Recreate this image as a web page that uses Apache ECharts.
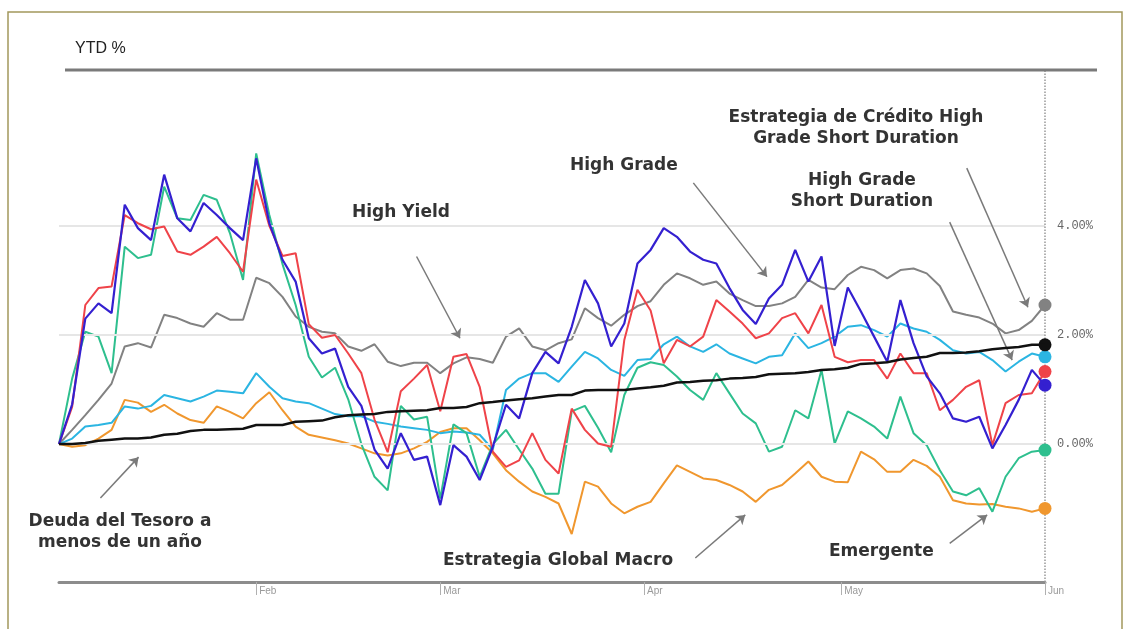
<!DOCTYPE html>
<html>
<head>
<meta charset="utf-8">
<script src="https://cdn.jsdelivr.net/npm/echarts@6/dist/echarts.min.js"></script>
<style>
  html, body { margin: 0; padding: 0; background: #fff; }
  #chart { width: 1133px; height: 629px; }
</style>
</head>
<body>
<div id="chart"></div>
<script>
// day of year (Jan 1 = 0), sampled every two days
var days = [1, 3, 5, 7, 9, 11, 13, 15, 17, 19, 21, 23, 25, 27, 29, 31,
  33, 35, 37, 39, 41, 43, 45, 47, 49, 51, 53, 55, 57, 59,
  61, 63, 65, 67, 69, 71, 73, 75, 77, 79, 81, 83, 85, 87, 89, 91,
  93, 95, 97, 99, 101, 103, 105, 107, 109, 111, 113, 115, 117, 119, 121,
  123, 125, 127, 129, 131, 133, 135, 137, 139, 141, 143, 145, 147, 149, 151];

var monthTicks = [31, 59, 90, 120, 151];
var monthLabels = ['Feb', 'Mar', 'Apr', 'May', 'Jun'];
var yTicks = [0, 2, 4];

// YTD % por estrategia
var highGrade = [0.0, 0.73, 2.3, 2.58, 2.4, 4.39, 3.96, 3.74, 4.94, 4.14, 3.9, 4.42, 4.2, 3.96, 3.74, 5.24,
  4.05, 3.38, 2.98, 1.94, 1.66, 1.75, 1.05, 0.7, -0.1, -0.45, 0.2, -0.29, -0.23, -1.12,
  -0.02, -0.23, -0.66, -0.05, 0.72, 0.47, 1.3, 1.69, 1.48, 2.15, 3.01, 2.58, 1.79, 2.21, 3.31, 3.56,
  3.96, 3.8, 3.53, 3.38, 3.31, 2.86, 2.46, 2.2, 2.67, 2.92, 3.56, 2.98, 3.44, 1.8, 2.87,
  2.43, 1.97, 1.51, 2.64, 1.85, 1.24, 0.93, 0.47, 0.41, 0.5, -0.08, 0.35, 0.81, 1.36, 1.08];

var highYield = [0, 0.68, 2.55, 2.86, 2.89, 4.2, 4.05, 3.94, 3.99, 3.53, 3.47, 3.62, 3.8, 3.5, 3.16, 4.85,
  4.0, 3.45, 3.5, 2.2, 1.95, 2.0, 1.66, 1.3, 0.45, -0.15, 0.97, 1.2, 1.45, 0.6,
  1.6, 1.65, 1.05, -0.14, -0.42, -0.3, 0.2, -0.29, -0.54, 0.65, 0.26, 0.01, -0.05, 1.91, 2.83, 2.45,
  1.48, 1.91, 1.79, 1.97, 2.64, 2.43, 2.21, 1.94, 2.03, 2.31, 2.4, 2.03, 2.55, 1.6, 1.5,
  1.54, 1.54, 1.2, 1.66, 1.3, 1.3, 0.62, 0.81, 1.05, 1.17, -0.02, 0.75, 0.9, 0.93, 1.33];

var emergente = [0, 1.2, 2.06, 1.97, 1.3, 3.62, 3.41, 3.47, 4.72, 4.14, 4.11, 4.57, 4.48, 3.87, 3.01, 5.33,
  4.2, 3.3, 2.55, 1.6, 1.22, 1.4, 0.82, 0.0, -0.6, -0.85, 0.7, 0.45, 0.5, -1.0,
  0.36, 0.2, -0.6, 0.0, 0.26, -0.1, -0.45, -0.91, -0.91, 0.6, 0.7, 0.3, -0.15, 0.9, 1.4, 1.5,
  1.45, 1.24, 0.99, 0.81, 1.3, 0.93, 0.56, 0.38, -0.14, -0.05, 0.62, 0.47, 1.36, 0.01, 0.6,
  0.47, 0.32, 0.1, 0.87, 0.2, -0.02, -0.48, -0.87, -0.94, -0.81, -1.24, -0.6, -0.26, -0.14, -0.11];

var creditoHGSD = [0, 0.26, 0.53, 0.81, 1.11, 1.79, 1.85, 1.77, 2.37, 2.31, 2.21, 2.15, 2.4, 2.28, 2.28, 3.05,
  2.95, 2.7, 2.34, 2.15, 2.06, 2.03, 1.79, 1.71, 1.83, 1.51, 1.43, 1.49, 1.49, 1.3,
  1.48, 1.59, 1.56, 1.49, 1.97, 2.12, 1.79, 1.72, 1.85, 1.92, 2.49, 2.31, 2.17, 2.37, 2.53, 2.62,
  2.92, 3.13, 3.04, 2.92, 2.98, 2.76, 2.64, 2.53, 2.53, 2.58, 2.7, 3.01, 2.87, 2.84, 3.1,
  3.25, 3.19, 3.04, 3.19, 3.22, 3.13, 2.9, 2.43, 2.37, 2.32, 2.21, 2.03, 2.09, 2.26, 2.55];

var hgShortDuration = [0, 0.1, 0.32, 0.35, 0.39, 0.69, 0.65, 0.7, 0.9, 0.84, 0.78, 0.87, 0.98, 0.96, 0.93, 1.3,
  1.05, 0.84, 0.78, 0.75, 0.65, 0.55, 0.51, 0.51, 0.41, 0.37, 0.32, 0.29, 0.26, 0.2,
  0.23, 0.21, 0.17, -0.1, 0.99, 1.2, 1.3, 1.3, 1.14, 1.42, 1.69, 1.57, 1.36, 1.25, 1.54, 1.56,
  1.83, 1.97, 1.79, 1.69, 1.83, 1.66, 1.57, 1.48, 1.6, 1.63, 2.03, 1.76, 1.85, 1.97, 2.15,
  2.18, 2.09, 1.97, 2.21, 2.12, 2.06, 1.91, 1.72, 1.66, 1.69, 1.54, 1.33, 1.51, 1.66, 1.6];

var globalMacro = [0, -0.05, -0.02, 0.1, 0.26, 0.81, 0.76, 0.59, 0.72, 0.56, 0.44, 0.39, 0.69, 0.59, 0.47, 0.75,
  0.95, 0.62, 0.32, 0.17, 0.12, 0.07, 0.01, -0.08, -0.17, -0.21, -0.17, -0.08, 0.04, 0.22,
  0.29, 0.29, 0.07, -0.17, -0.48, -0.69, -0.87, -0.97, -1.09, -1.65, -0.69, -0.78, -1.09, -1.27, -1.15, -1.06,
  -0.72, -0.39, -0.51, -0.63, -0.66, -0.75, -0.87, -1.06, -0.84, -0.75, -0.54, -0.32, -0.6, -0.69, -0.7,
  -0.14, -0.28, -0.51, -0.51, -0.29, -0.4, -0.6, -1.03, -1.09, -1.11, -1.1, -1.15, -1.18, -1.24, -1.18];

var tesoro = [0, 0, 0.02, 0.06, 0.08, 0.1, 0.1, 0.12, 0.17, 0.19, 0.24, 0.26, 0.26, 0.27, 0.28, 0.35,
  0.35, 0.35, 0.41, 0.42, 0.43, 0.49, 0.53, 0.54, 0.55, 0.59, 0.6, 0.61, 0.62, 0.66,
  0.66, 0.68, 0.75, 0.77, 0.8, 0.82, 0.84, 0.87, 0.9, 0.9, 0.98, 0.99, 0.99, 0.99, 1.02, 1.04,
  1.07, 1.13, 1.14, 1.16, 1.17, 1.2, 1.21, 1.23, 1.28, 1.29, 1.3, 1.32, 1.36, 1.37, 1.4,
  1.47, 1.48, 1.5, 1.55, 1.58, 1.6, 1.67, 1.67, 1.68, 1.7, 1.74, 1.76, 1.78, 1.82, 1.82];

// annotation arrows, in chart units [day, %]
var arrows = [
  [[55.4, 3.44], [62.0, 1.94]],
  [[97.5, 4.79], [108.7, 3.07]],
  [[139.1, 5.06], [148.4, 2.51]],
  [[136.5, 4.07], [146.0, 1.54]],
  [[7.3, -0.99], [13.1, -0.24]],
  [[97.8, -2.09], [105.4, -1.3]],
  [[136.5, -1.82], [142.2, -1.3]]
];

var notes = [
  { text: 'High Yield', x: 352, y: 213, align: 'left' },
  { text: 'High Grade', x: 570, y: 166, align: 'left' },
  { text: 'Estrategia de Crédito High\nGrade Short Duration', x: 856, y: 128, align: 'center' },
  { text: 'High Grade\nShort Duration', x: 862, y: 191, align: 'center' },
  { text: 'Deuda del Tesoro a\nmenos de un año', x: 120, y: 532, align: 'center' },
  { text: 'Estrategia Global Macro', x: 443, y: 561, align: 'left' },
  { text: 'Emergente', x: 829, y: 552, align: 'left' }
];

function makeLine(name, values, color, width, z) {
  var last = values.length - 1;
  return {
    name: name,
    type: 'line',
    z: z,
    symbol: 'none',
    data: days.map(function (d, i) { return [d, values[i]]; }),
    lineStyle: { color: color, width: width },
    itemStyle: { color: color },
    markPoint: {
      symbol: 'circle',
      symbolSize: 13,
      itemStyle: { color: color },
      label: { show: false },
      data: [{ coord: [days[last], values[last]] }]
    }
  };
}

var chart = echarts.init(document.getElementById('chart'));

chart.setOption({
  animation: false,
  backgroundColor: '#fff',
  title: {
    text: 'YTD %',
    left: 70,
    top: 36,
    textStyle: { fontSize: 16, fontWeight: 'normal', color: '#222', fontFamily: 'Liberation Sans' }
  },
  grid: { left: 59, right: 88, top: 70, bottom: 47 },
  xAxis: {
    type: 'value',
    min: 1,
    max: 151,
    splitLine: { show: false },
    axisLine: { onZero: false, lineStyle: { color: '#8c8c8c', width: 3 } },
    axisTick: { customValues: monthTicks, length: 13, lineStyle: { color: '#b0b0b0', width: 1 } },
    axisLabel: {
      customValues: monthTicks,
      formatter: function (v) { return monthLabels[monthTicks.indexOf(v)]; },
      align: 'left',
      padding: [0, 0, 0, 3],
      margin: 4,
      fontSize: 10,
      color: '#9a9a9a',
      fontFamily: 'Liberation Sans Narrow, Liberation Sans'
    }
  },
  yAxis: {
    type: 'value',
    position: 'right',
    min: -2.53,
    max: 6.86,
    splitLine: { show: false },
    axisLine: { show: false },
    axisTick: { show: false },
    axisLabel: {
      customValues: yTicks,
      formatter: function (v) { return v.toFixed(2) + '%'; },
      margin: 12,
      fontSize: 12,
      color: '#666',
      fontFamily: 'Liberation Mono'
    }
  },
  graphic: [
    {
      type: 'rect', z: -1, silent: true,
      shape: { x: 8, y: 12, width: 1114, height: 640 },
      style: { fill: 'none', stroke: '#a2985c', lineWidth: 1.5 }
    },
    {
      type: 'line', z: 10, silent: true,
      shape: { x1: 65, y1: 70, x2: 1097, y2: 70 },
      style: { stroke: '#7a7a7a', lineWidth: 3 }
    }
  ].concat(notes.map(function (n) {
    return {
      type: 'text', x: n.x, y: n.y, z: 20, silent: true,
      style: {
        text: n.text, align: n.align, verticalAlign: 'middle',
        fontSize: 17, fontWeight: 'bold', fontFamily: 'DejaVu Sans',
        fill: '#333', lineHeight: 21
      }
    };
  })),
  series: [
    {
      type: 'line',
      z: 1,
      silent: true,
      data: [],
      markLine: {
        silent: true,
        symbol: 'none',
        label: { show: false },
        lineStyle: { color: '#e6e6e6', width: 2, type: 'solid' },
        data: yTicks.map(function (t) { return { yAxis: t }; }).concat([
          { xAxis: monthTicks[monthTicks.length - 1], lineStyle: { color: '#999', width: 1.5, type: 'dotted' } }
        ])
      }
    },
    {
      type: 'line',
      z: 9,
      silent: true,
      data: [],
      markLine: {
        silent: true,
        symbol: ['none', 'arrow'],
        symbolSize: 9,
        label: { show: false },
        lineStyle: { color: '#7a7a7a', width: 1.5, type: 'solid' },
        data: arrows.map(function (a) { return [{ coord: a[0] }, { coord: a[1] }]; })
      }
    },
    makeLine('Estrategia de Crédito High Grade Short Duration', creditoHGSD, '#828282', 2, 3),
    makeLine('Estrategia Global Macro', globalMacro, '#f0972e', 2, 3),
    makeLine('High Grade Short Duration', hgShortDuration, '#2bb5e2', 2, 4),
    makeLine('Emergente', emergente, '#2ebf8e', 2, 4),
    makeLine('High Yield', highYield, '#ef4349', 2, 5),
    makeLine('High Grade', highGrade, '#3420d0', 2.2, 6),
    makeLine('Deuda del Tesoro a menos de un año', tesoro, '#111111', 2.5, 7)
  ]
});
</script>
</body>
</html>
